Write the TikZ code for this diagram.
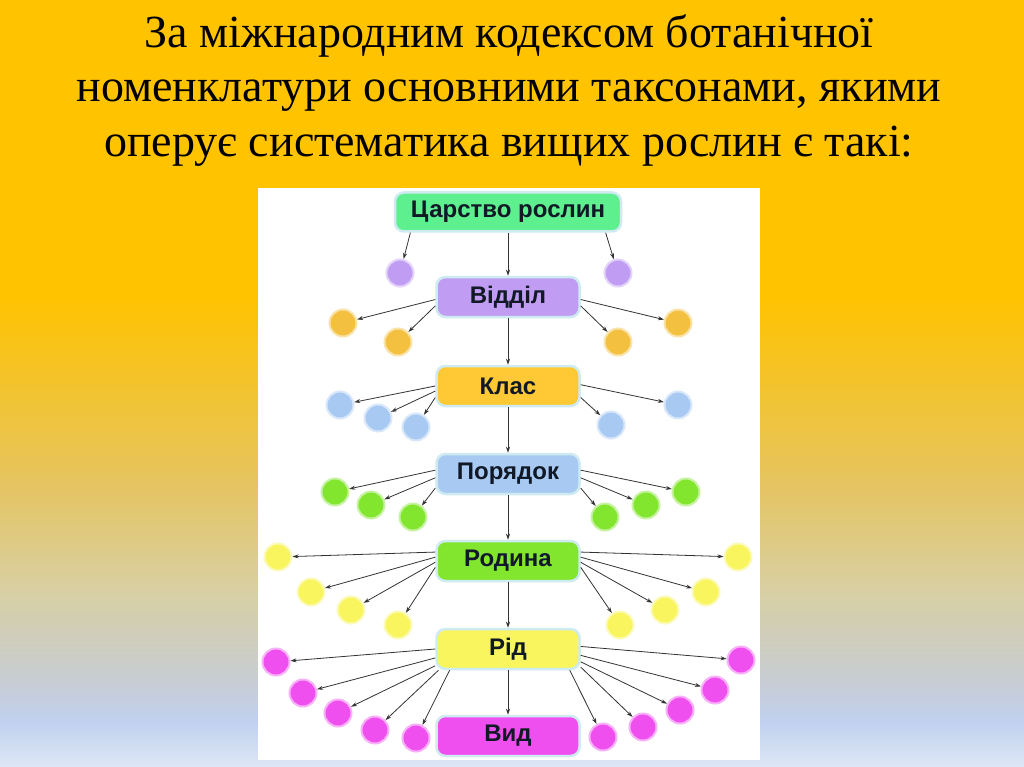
\documentclass[tikz,border=0pt]{standalone}
\usepackage{fontspec}
\setmainfont{Liberation Serif}
\newfontfamily\boxfont{Liberation Sans}
\usetikzlibrary{arrows.meta}

\definecolor{bgorange}{HTML}{FFC300}
\definecolor{bgsand}{HTML}{E6C45E}
\definecolor{bgbeige}{HTML}{D8CFA2}
\definecolor{bggrey}{HTML}{C8CDD3}
\definecolor{bgblue}{HTML}{C0D0EE}
\definecolor{bglight}{HTML}{DDE7F5}
\definecolor{mint}{HTML}{5EEF8E}
\definecolor{lilac}{HTML}{C09CF2}
\definecolor{gold}{HTML}{FEC935}
\definecolor{golddot}{HTML}{F3C040}
\definecolor{sky}{HTML}{A8CAF2}
\definecolor{lime}{HTML}{82E52E}
\definecolor{lemon}{HTML}{F8F55E}
\definecolor{pink}{HTML}{F04FEF}
\definecolor{rim}{HTML}{CDEBF0}
\definecolor{boxtext}{HTML}{111826}
\definecolor{arrowgrey}{HTML}{333333}

\tikzset{
  title/.style={anchor=base, font=\fontsize{46}{52}\selectfont},
  taxon/.style={rectangle, rounded corners=9pt, minimum width=143pt, minimum height=40pt,
    inner sep=0pt, draw=rim, line width=2.5pt, text=boxtext,
    font=\boxfont\bfseries\fontsize{24}{28}\selectfont},
  dot/.style={circle, minimum size=27pt, inner sep=0pt, line width=2pt, fill=#1, draw=#1!45!white},
  arr/.style={-{Stealth[length=6pt,width=4pt]}, line width=0.8pt, draw=arrowgrey}
}

\begin{document}
\begin{tikzpicture}[x=1pt,y=-1pt]
  \useasboundingbox (0,0) rectangle (1024,767);
  % background
  \fill[bgorange] (0,0) rectangle (1024,298);
  \shade[top color=bgorange, bottom color=bgsand] (0,297) rectangle (1024,480);
  \shade[top color=bgsand, bottom color=bgbeige] (0,479) rectangle (1024,590);
  \shade[top color=bgbeige, bottom color=bggrey] (0,589) rectangle (1024,680);
  \shade[top color=bggrey, bottom color=bgblue] (0,679) rectangle (1024,722);
  \shade[top color=bgblue, bottom color=bglight] (0,721) rectangle (1024,767);
  \fill[white] (258,188) rectangle (760,760);

  \node[title] (title1) at (509,48) {За міжнародним кодексом ботанічної};
  \node[title] (title2) at (509,102) {номенклатури основними таксонами, якими};
  \node[title] (title3) at (509,157) {оперує систематика вищих рослин є такі:};

  % main ranks
  \node[taxon, fill=mint, minimum width=226pt, minimum height=39pt] (tsar) at (508,212) {Царство рослин};
  \node[taxon, fill=lilac] (viddil) at (508,297) {Відділ};
  \node[taxon, fill=gold] (klas) at (508,386) {Клас};
  \node[taxon, fill=sky] (poryadok) at (508,474) {Порядок};
  \node[taxon, fill=lime] (rodyna) at (508,561) {Родина};
  \node[taxon, fill=lemon] (rid) at (508,649) {Рід};
  \node[taxon, fill=pink] (vyd) at (508,736) {Вид};

  \foreach \u/\v in {tsar/viddil, viddil/klas, klas/poryadok, poryadok/rodyna, rodyna/rid, rid/vyd}
    \draw[arr] (\u) -- (\v);

  % side circles
  \foreach \a/\x/\y [count=\i] in {192/400/273, 348/618/273} {
    \node[dot=lilac] (a\i) at (\x,\y) {};
    \draw[arr] (tsar.\a) -- (a\i);
  }
  \foreach \a/\x/\y [count=\i] in {182/343/323, 187/398/342, 353/618/342, 358/678/323} {
    \node[dot=golddot] (b\i) at (\x,\y) {};
    \draw[arr] (viddil.\a) -- (b\i);
  }
  \foreach \a/\x/\y [count=\i] in {180/340/405, 184/378/418, 189/416/427, 351/611/425, 1/678/405} {
    \node[dot=sky] (c\i) at (\x,\y) {};
    \draw[arr] (klas.\a) -- (c\i);
  }
  \foreach \a/\x/\y [count=\i] in {177/335/492, 183/371/505, 191/413/517, 349/605/517, 357/646/505, 3/686/492} {
    \node[dot=lime] (d\i) at (\x,\y) {};
    \draw[arr] (poryadok.\a) -- (d\i);
  }
  \foreach \a/\x/\y [count=\i] in {173/278/557, 177/311/592, 181/351/610, 185/398/625,
                                   355/620/625, 359/665/610, 3/706/592, 7/738/557} {
    \node[dot=lemon] (e\i) at (\x,\y) {};
    \draw[arr] (rodyna.\a) -- (e\i);
  }
  \foreach \a/\x/\y [count=\i] in {180/276/662, 187/303/693, 193/338/713, 197/375/730, 200/416/738,
                                   341/603/737, 346/643/727, 350/680/710, 355/715/690, 2/741/660} {
    \node[dot=pink] (f\i) at (\x,\y) {};
    \draw[arr] (rid.\a) -- (f\i);
  }
\end{tikzpicture}
\end{document}
